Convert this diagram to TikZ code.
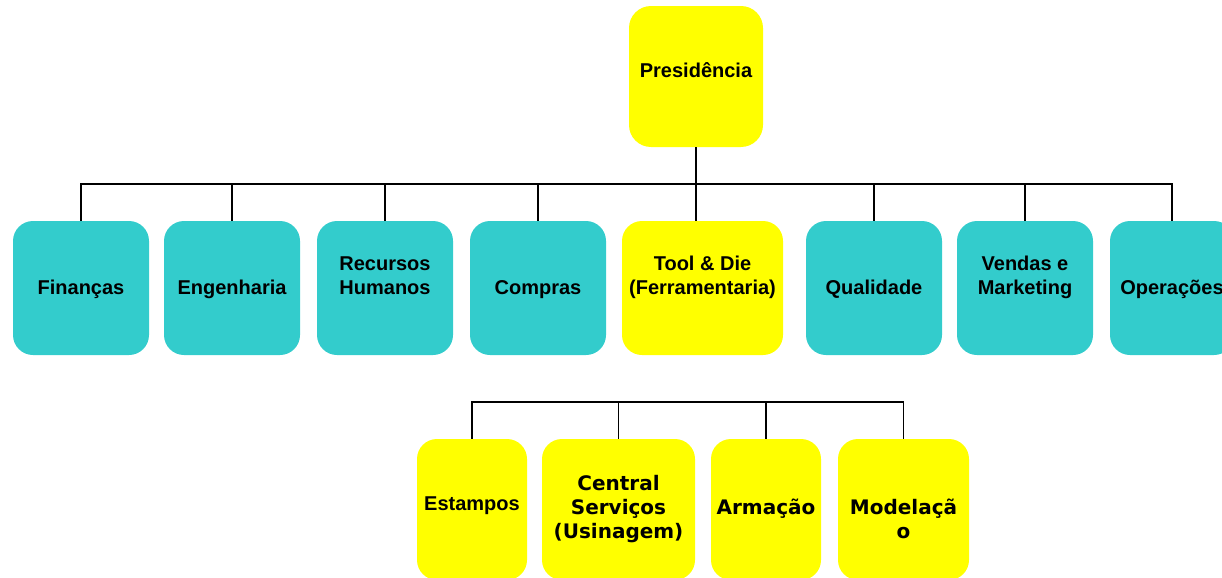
\documentclass[tikz,border=0pt]{standalone}
\usepackage{fontspec}
\setmainfont{Liberation Sans}
\newfontfamily\verdana{DejaVu Sans}
\usepackage{tikz}

\definecolor{turquesa}{RGB}{51,204,204}
\definecolor{amarelo}{RGB}{255,255,0}

\begin{document}
\begin{tikzpicture}[x=0.75pt, y=-0.75pt,
  caixa/.style={fill=#1, rounded corners=15pt, inner sep=0pt, align=center,
    text depth=0pt, font=\fontsize{15}{18}\selectfont\bfseries},
  topo/.style={caixa=turquesa, minimum width=102pt, minimum height=100.5pt, text height=9pt},
  baixo/.style={caixa=amarelo, minimum height=105.75pt},
  liga/.style={line width=1.1pt}]
  \clip (0,0) rectangle (1222,578);
  \node[caixa=amarelo, rounded corners=16.5pt, minimum width=100.5pt, minimum height=105.75pt,
    text height=2.2pt] (pres) at (696,76.5) {Presidência};
  % primeiro nivel
  \node[topo] (fin) at (81,288) {Finanças};
  \node[topo] (eng) at (232,288) {Engenharia};
  \node[topo] (rh) at (385,288) {Recursos\\Humanos};
  \node[topo] (com) at (538,288) {Compras};
  \node[topo, fill=amarelo, minimum width=120.75pt] (tool) at (702.5,288) {Tool \& Die\\(Ferramentaria)};
  \node[topo] (qua) at (874,288) {Qualidade};
  \node[topo] (ven) at (1025,288) {Vendas e\\Marketing};
  \node[topo, minimum width=93pt] (ope) at (1172,288) {Operações};
  \coordinate (bus) at (0,184);
  \draw[liga] (pres.south) -- (pres.south |- tool.north);
  \draw[liga] (fin.north) -- (fin.north |- bus) -- (ope.north |- bus) -- (ope.north);
  \foreach \n in {eng, rh, com, qua, ven}
    \draw[liga] (\n.north) -- (\n.north |- bus);
  % segundo nivel
  \node[baixo, minimum width=82.5pt, text height=0.8pt] (est) at (472,509.5) {Estampos};
  \node[baixo, minimum width=114.75pt, text height=44pt, font=\fontsize{15}{18}\selectfont\verdana\bfseries]
    (cen) at (618.5,509.5) {Central\\Serviços\\(Usinagem)};
  \node[baixo, minimum width=82.5pt, text height=8pt, font=\fontsize{15}{18}\selectfont\verdana\bfseries]
    (arm) at (766,509.5) {Armação};
  \node[baixo, minimum width=98.25pt, text height=44pt, font=\fontsize{15}{18}\selectfont\verdana\bfseries]
    (mod) at (903.5,509.5) {Modelaçã\\o};
  \coordinate (bus2) at (0,402);
  \draw[liga] (est.north) -- (est.north |- bus2) -- (mod.north |- bus2) -- (mod.north);
  \foreach \n in {cen, arm}
    \draw[liga] (\n.north) -- (\n.north |- bus2);
\end{tikzpicture}
\end{document}
